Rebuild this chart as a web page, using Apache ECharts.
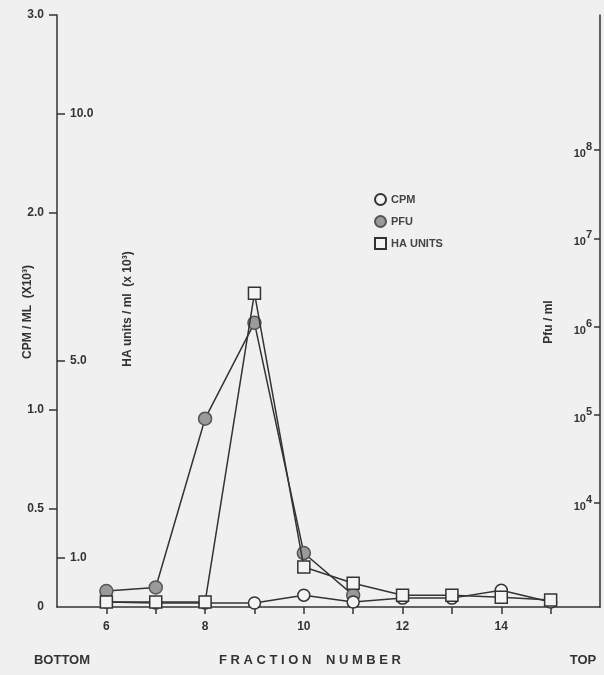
<!DOCTYPE html>
<html>
<head>
<meta charset="utf-8">
<script src="https://cdn.jsdelivr.net/npm/echarts@6/dist/echarts.min.js"></script>
<style>
html,body{margin:0;padding:0;background:#f0f0f0;}
#main{width:604px;height:675px;}
</style>
</head>
<body>
<div id="main"></div>
<script>
// 数据
var fractions = [6, 7, 8, 9, 10, 11, 12, 13, 14, 15];
var cpm = [0.025, 0.02, 0.02, 0.02, 0.06, 0.025, 0.045, 0.045, 0.085, 0.025];
var haUnits = [0.1, 0.1, 0.1, 6.36, 0.81, 0.48, 0.24, 0.24, 0.2, 0.14];
var pfuFractions = [6, 7, 8, 9, 10, 11];
var pfu = [1.0e3, 1.1e3, 9.0e4, 1.1e6, 2.7e3, 9.0e2];

var xLabels = [6, 8, 10, 12, 14];
var cpmTicks = [0.5, 1, 2, 3];
var haTicks = [1, 5, 10];
var pfuTicks = [1e4, 1e5, 1e6, 1e7, 1e8];

function pairs(xs, ys){
    var out = [];
    for(var i = 0; i < xs.length; i++){
        out.push([xs[i], ys[i]]);
    }
    return out;
}

var ink = '#333';
var font = 'Liberation Sans';

// 轴标题（竖排）
function vText(text, x, y){
    return {type : 'text', x : x, y : y, rotation : Math.PI / 2,
        style : {text : text, align : 'center', verticalAlign : 'middle',
            fill : ink, font : 'bold 12px "Liberation Sans"'}};
}
function hText(text, x, y, size){
    return {type : 'text', x : x, y : y,
        style : {text : text, align : 'center', verticalAlign : 'middle',
            fill : ink, font : 'bold ' + size + 'px "Liberation Sans"'}};
}

var chart = echarts.init(document.getElementById('main'));
var option = {
    backgroundColor : '#f0f0f0',
    animation : false,
    grid : {
        left : 57,
        right : 4,
        top : 15,
        bottom : 68
    },
    legend : {
        orient : 'vertical',
        left : 369,
        top : 188,
        itemGap : 9,
        itemWidth : 11,
        itemHeight : 11,
        textStyle : {
            color : '#444',
            fontFamily : font,
            fontWeight : 'bold',
            fontSize : 11
        },
        data : [
            {name : 'CPM', icon : 'circle'},
            {name : 'PFU', icon : 'circle'},
            {name : 'HA UNITS', icon : 'rect'}
        ]
    },
    xAxis : {
        type : 'value',
        min : 5,
        max : 16,
        interval : 1,
        splitLine : {show : false},
        axisLine : {lineStyle : {color : ink, width : 1.5}},
        axisTick : {
            length : 7,
            lineStyle : {color : ink, width : 1.5},
            customValues : fractions
        },
        axisLabel : {
            margin : 14,
            color : ink,
            fontFamily : font,
            fontWeight : 'bold',
            fontSize : 12,
            customValues : xLabels
        }
    },
    yAxis : [ {
        // CPM
        type : 'value',
        min : 0,
        max : 3,
        position : 'left',
        splitLine : {show : false},
        axisLine : {show : true, lineStyle : {color : ink, width : 1.5}},
        axisTick : {
            length : 8,
            lineStyle : {color : ink, width : 1.5},
            customValues : cpmTicks
        },
        axisLabel : {
            margin : 13,
            color : ink,
            fontFamily : font,
            fontWeight : 'bold',
            fontSize : 12,
            customValues : [0].concat(cpmTicks),
            formatter : function(v){
                return v == 0 ? '0' : v.toFixed(1);
            }
        }
    }, {
        // HA units
        type : 'value',
        min : 0,
        max : 12,
        position : 'left',
        splitLine : {show : false},
        axisLine : {show : false},
        axisTick : {
            inside : true,
            length : 8,
            lineStyle : {color : ink, width : 1.5},
            customValues : haTicks
        },
        axisLabel : {
            inside : true,
            margin : 13,
            color : ink,
            fontFamily : font,
            fontWeight : 'bold',
            fontSize : 12,
            customValues : haTicks,
            formatter : function(v){
                return v.toFixed(1);
            }
        }
    }, {
        // Pfu 对数轴
        type : 'log',
        min : 660,
        max : 3.4e9,
        position : 'right',
        splitLine : {show : false},
        axisLine : {show : true, lineStyle : {color : ink, width : 1.5}},
        axisTick : {
            inside : true,
            length : 6,
            lineStyle : {color : ink, width : 1.5},
            customValues : pfuTicks
        },
        axisLabel : {
            inside : true,
            margin : 8,
            align : 'right',
            customValues : pfuTicks,
            formatter : function(v){
                return '{b|10}{s|' + Math.round(Math.log10(v)) + '}';
            },
            rich : {
                b : {color : ink, fontFamily : font, fontWeight : 'bold', fontSize : 11, padding : [8, 0, 0, 0]},
                s : {color : ink, fontFamily : font, fontWeight : 'bold', fontSize : 11, padding : [0, 0, 6, 0]}
            }
        }
    } ],
    graphic : [
        vText('CPM / ML  (X10³)', 28, 312),
        vText('HA units / ml  (x 10³)', 128, 309),
        vText('Pfu / ml', 549, 322),
        hText('BOTTOM', 62, 660, 13),
        hText('F R A C T I O N    N U M B E R', 310, 660, 13),
        hText('TOP', 583, 660, 13)
    ],
    series : [ {
        name : 'CPM',
        type : 'line',
        yAxisIndex : 0,
        symbol : 'circle',
        symbolSize : 12,
        itemStyle : {color : '#f4f4f4', borderColor : ink, borderWidth : 1.5},
        lineStyle : {color : ink, width : 1.5},
        data : pairs(fractions, cpm),
        z : 3
    }, {
        name : 'PFU',
        type : 'line',
        yAxisIndex : 2,
        symbol : 'circle',
        symbolSize : 13,
        itemStyle : {color : '#9a9a9a', borderColor : '#555', borderWidth : 1.5},
        lineStyle : {color : ink, width : 1.5},
        data : pairs(pfuFractions, pfu),
        z : 2
    }, {
        name : 'HA UNITS',
        type : 'line',
        yAxisIndex : 1,
        symbol : 'rect',
        symbolSize : 12,
        itemStyle : {color : '#f4f4f4', borderColor : ink, borderWidth : 1.5},
        lineStyle : {color : ink, width : 1.5},
        data : pairs(fractions, haUnits),
        z : 4
    } ]
};

chart.setOption(option);
</script>
</body>
</html>
